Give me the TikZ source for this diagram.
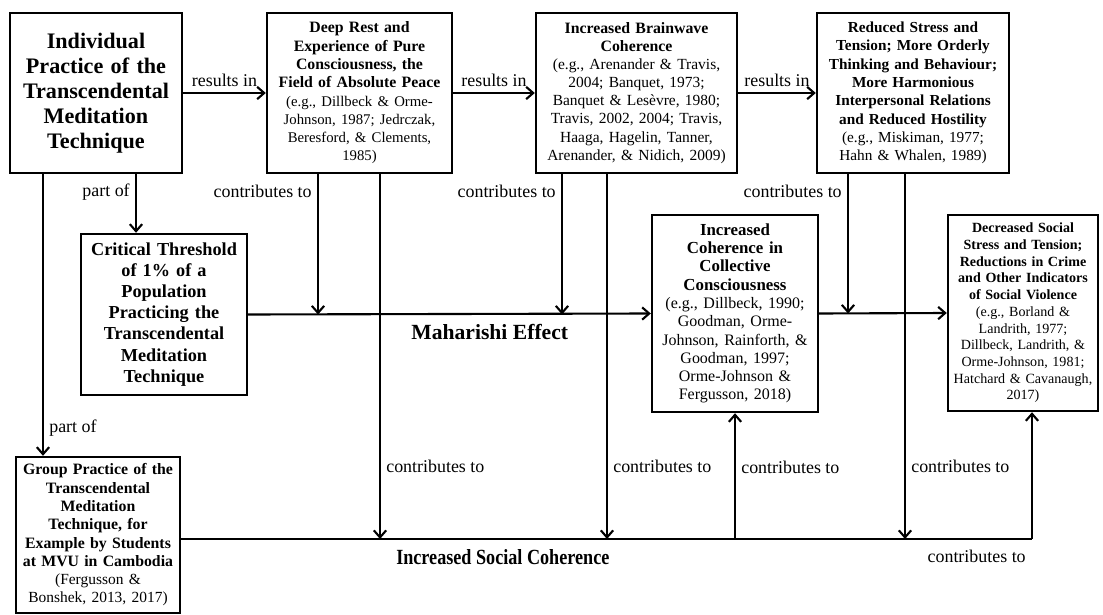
\documentclass[tikz,border=0pt]{standalone}
\usepackage{fontspec}
\setmainfont{Liberation Serif}
\usepackage{tikz}
\usetikzlibrary{arrows.meta}

\newcommand{\setfs}[2]{\fontsize{#1}{#2}\selectfont}
\tikzset{
  box/.style={draw, line width=1.4pt, align=center, inner sep=0pt},
  conn/.style={line width=1.2pt},
  arr/.style={conn, -{Straight Barb[length=4pt, width=7pt]}},
  lbl/.style={font=\setfs{10.2}{12}, inner sep=3pt},
  big/.style={font=\setfs{12.3}{14}\bfseries, inner sep=3pt}
}

\begin{document}
\begin{tikzpicture}[x=0.02cm, y=-0.02cm]
\useasboundingbox (0,0) rectangle (1103,615);
\node[box, text width=3.3cm, minimum width=3.44cm, minimum height=3.2cm, font=\setfs{12.6}{14.2}\bfseries] (A) at (96,93)
  {Individual\\ Practice of the\\ Transcendental\\ Meditation\\ Technique};
\node[box, text width=3.6cm, minimum width=3.7cm, minimum height=3.2cm, font=\setfs{9}{10.4}] (B) at (359.5,93)
  {\textbf{Deep Rest and}\\ \textbf{Experience of Pure}\\ \textbf{Consciousness, the}\\ \textbf{Field of Absolute Peace}\\
  {\setfs{8.4}{10.4}(e.g., Dillbeck \& Orme-\\ Johnson, 1987; Jedrczak,\\ Beresford, \& Clements,\\ 1985)}};
\node[box, text width=3.9cm, minimum width=4.02cm, minimum height=3.2cm, font=\setfs{9}{10.3}] (C) at (636.5,93)
  {\textbf{Increased Brainwave}\\ \textbf{Coherence}\\
  {\setfs{8.8}{10.3}(e.g., Arenander \& Travis,\\ 2004; Banquet, 1973;\\ Banquet \& Lesèvre, 1980;\\ Travis, 2002, 2004; Travis,\\ Haaga, Hagelin, Tanner,\\ Arenander, \& Nidich, 2009)}};
\node[box, text width=3.7cm, minimum width=3.84cm, minimum height=3.2cm, font=\setfs{8.7}{10.4}] (D) at (913,93)
  {\textbf{Reduced Stress and}\\ \textbf{Tension; More Orderly}\\ \textbf{Thinking and Behaviour;}\\ \textbf{More Harmonious}\\ \textbf{Interpersonal Relations}\\ \textbf{and Reduced Hostility}\\
  (e.g., Miskiman, 1977;\\ Hahn \& Whalen, 1989)};
\node[box, text width=3.2cm, minimum width=3.32cm, minimum height=3.22cm, font=\setfs{10.4}{12}\bfseries] (E) at (164,314.5)
  {Critical Threshold\\ of 1\% of a\\ Population\\ Practicing the\\ Transcendental\\ Meditation\\ Technique};
\node[box, text width=3.2cm, minimum width=3.32cm, minimum height=3.94cm, font=\setfs{9.6}{10.4}] (Coll) at (735,313.5)
  {\textbf{Increased}\\ \textbf{Coherence in}\\ \textbf{Collective}\\ \textbf{Consciousness}\\
  {\setfs{9.1}{10.4}(e.g., Dillbeck, 1990;\\ Goodman, Orme-\\ Johnson, Rainforth, \&\\ Goodman, 1997;\\ Orme-Johnson \&\\ Fergusson, 2018)}};
\node[box, text width=2.9cm, minimum width=3.0cm, minimum height=3.92cm, font=\setfs{8}{9.5}] (F) at (1023,313)
  {\textbf{Decreased Social}\\ \textbf{Stress and Tension;}\\ \textbf{Reductions in Crime}\\ \textbf{and Other Indicators}\\ \textbf{of Social Violence}\\
  (e.g., Borland \&\\ Landrith, 1977;\\ Dillbeck, Landrith, \&\\ Orme-Johnson, 1981;\\ Hatchard \& Cavanaugh,\\ 2017)};
\node[box, text width=3.15cm, minimum width=3.28cm, minimum height=3.12cm, font=\setfs{9}{10.4}] (G) at (98,535)
  {\textbf{Group Practice of the}\\ \textbf{Transcendental}\\ \textbf{Meditation}\\ \textbf{Technique, for}\\ \textbf{Example by Students}\\ \textbf{at MVU in Cambodia}\\
  {\setfs{8.8}{10.4}(Fergusson \&\\ Bonshek, 2013, 2017)}};

\coordinate (pA) at (136,0);
\coordinate (pG) at (43,0);
\coordinate (b1) at (318,0);
\coordinate (b2) at (380,0);
\coordinate (c1) at (562,0);
\coordinate (c2) at (607,0);
\coordinate (d1) at (848,0);
\coordinate (d2) at (905,0);
\coordinate (f1) at (1032,0);
\coordinate (soc) at (0,539);

\draw[arr] (A.east) -- node[lbl, above] {results in} (B.west);
\draw[arr] (B.east) -- node[lbl, above] {results in} (C.west);
\draw[arr] (C.east) -- node[lbl, above] {results in} (D.west);
\draw[arr] (A.south -| pA) -- node[lbl, pos=0.3, left] {part of} (E.north -| pA);
\draw[arr] (A.south -| pG) -- node[lbl, pos=0.9, right] {part of} (G.north -| pG);

\draw[arr] (E.east) -- node[big, pos=0.6, below, yshift=-2.5pt] {Maharishi Effect} (Coll.west);
\draw[arr] (Coll.east) -- (F.west);
\draw[arr] (B.south -| b1) -- node[lbl, pos=0.12, left] {contributes to} (b1 |- E.east);
\draw[arr] (C.south -| c1) -- node[lbl, pos=0.12, left] {contributes to} (c1 |- E.east);
\draw[arr] (D.south -| d1) -- node[lbl, pos=0.12, left] {contributes to} (d1 |- Coll.east);

\draw[arr] (B.south -| b2) -- node[lbl, pos=0.8, right] {contributes to} (b2 |- soc);
\draw[arr] (C.south -| c2) -- node[lbl, pos=0.8, right] {contributes to} (c2 |- soc);
\draw[arr] (D.south -| d2) -- node[lbl, pos=0.8, right] {contributes to} (d2 |- soc);
\draw[arr] (soc -| Coll.south) -- node[lbl, pos=0.57, right] {contributes to} (Coll.south);
\draw[conn] (G.east |- soc) -- node[big, pos=0.378, below, yshift=-2.5pt] {\scalebox{0.84}[1]{Increased Social Coherence}} (soc -| f1);
\draw[arr] (soc -| f1) node[lbl, below left, yshift=-2.5pt] {contributes to} -- (F.south -| f1);
\end{tikzpicture}
\end{document}
